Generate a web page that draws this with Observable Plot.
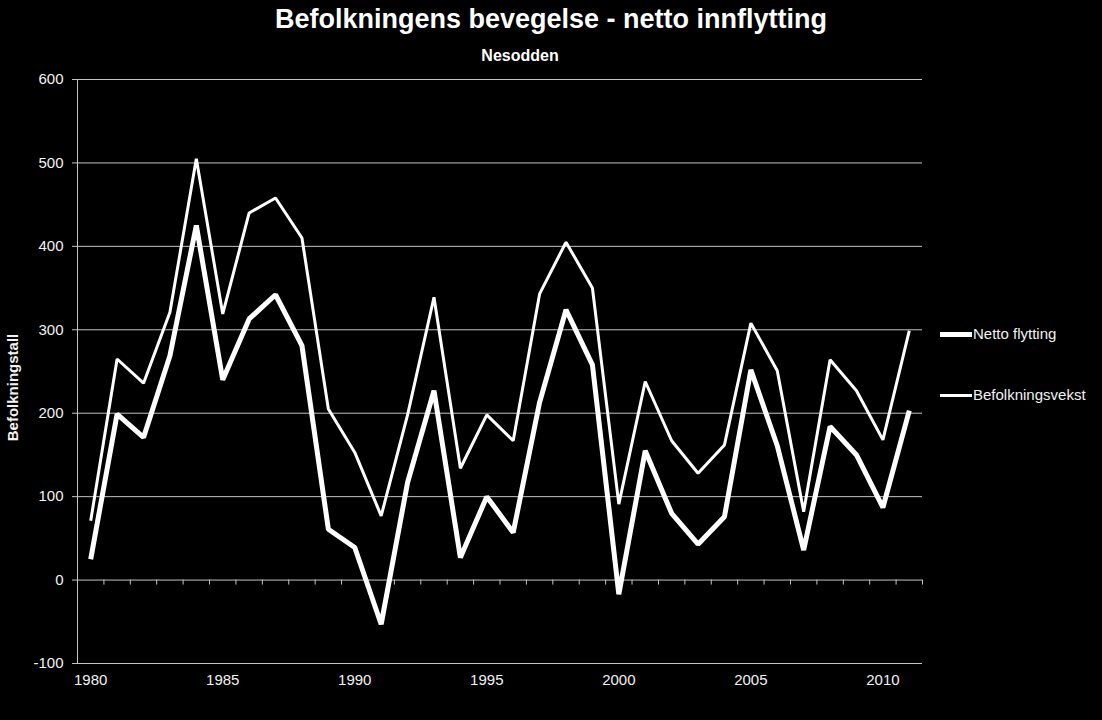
<!DOCTYPE html>
<html><head><meta charset="utf-8">
<script src="https://cdn.jsdelivr.net/npm/d3@7"></script>
<script src="https://cdn.jsdelivr.net/npm/@observablehq/plot@0.6"></script>
<style>
html,body{margin:0;padding:0;background:#000;}
#wrap{position:relative;width:1102px;height:720px;background:#000;font-family:"Liberation Sans",Arial,sans-serif;color:#fff;overflow:hidden}
#title{position:absolute;left:0;width:1102px;top:3px;text-align:center;font-weight:bold;font-size:27px;line-height:32px}
#sub{position:absolute;left:420px;width:200px;top:47px;text-align:center;font-weight:bold;font-size:16px;line-height:18px}
#chart{position:absolute;left:0;top:0}
.leg{position:absolute;left:940px;width:160px;height:20px;font-size:15px;line-height:20px;}
.sw{position:absolute;left:0;width:32px;background:#fff}
.lt{position:absolute;left:33px;top:0;white-space:nowrap;color:#f2f2f2}
</style></head>
<body>
<div id="wrap">
  <div id="chart"></div>
  <div id="title">Befolkningens bevegelse - netto innflytting</div>
  <div id="sub">Nesodden</div>
  <div class="leg" style="top:324px"><div class="sw" style="top:8px;height:5px"></div><div class="lt">Netto flytting</div></div>
  <div class="leg" style="top:385px"><div class="sw" style="top:8.5px;height:3px"></div><div class="lt">Befolkningsvekst</div></div>
</div>
<script>
const years = [1980,1981,1982,1983,1984,1985,1986,1987,1988,1989,1990,1991,1992,1993,1994,1995,1996,1997,1998,1999,2000,2001,2002,2003,2004,2005,2006,2007,2008,2009,2010,2011];
const nettoFlytting = [25,199,171,269,425,240,313,342,281,61,39,-53,117,227,27,100,57,213,324,258,-17,155,80,43,76,252,161,36,184,150,87,203];
const befolkningsvekst = [71,265,236,321,505,319,440,458,410,205,153,77,198,339,134,198,167,343,405,350,91,238,167,128,162,308,251,82,264,227,168,299];
const xTickLabels = [1980,1985,1990,1995,2000,2005,2010];
const yTicks = [-100,0,100,200,300,400,500,600];

const netto = years.map((y,i) => ({year:y, value:nettoFlytting[i]}));
const vekst = years.map((y,i) => ({year:y, value:befolkningsvekst[i]}));
const boundaries = years.map(y => y - 0.5).concat([years[years.length-1] + 0.5]);

const grid = "#c4c4c4";
const chart = Plot.plot({
  width: 1102,
  height: 720,
  marginLeft: 77,
  marginRight: 180,
  marginTop: 79,
  marginBottom: 57,
  style: {background: "#000", color: "#f2f2f2", fontFamily: "'Liberation Sans', Arial, sans-serif", fontSize: "15px"},
  x: {domain: [years[0] - 0.5, years[years.length-1] + 0.5]},
  y: {domain: [-100, 600]},
  marks: [
    Plot.ruleY(yTicks, {stroke: grid, strokeWidth: 1}),
    Plot.ruleX([years[0] - 0.5], {stroke: grid, strokeWidth: 1}),
    Plot.ruleX(boundaries, {x: d => d, y1: 0, y2: -6, stroke: grid, strokeWidth: 1}),
    Plot.axisY({ticks: yTicks, tickSize: 5, tickPadding: 9, stroke: grid, fill: "#f2f2f2", fontSize: 15, label: null, tickFormat: d => String(d)}),
    Plot.axisX({ticks: xTickLabels, tickSize: 0, tickPadding: 11, fill: "#f2f2f2", fontSize: 15, label: null, tickFormat: d => String(d)}),
    Plot.text(["Befolkningstall"], {text: d => d, frameAnchor: "left", textAnchor: "middle", lineAnchor: "middle", rotate: -90, dx: -64, dy: 16, fill: "#f2f2f2", fontWeight: "bold", fontSize: 15}),
    Plot.line(vekst, {x: "year", y: "value", stroke: "#fff", strokeWidth: 3, strokeLinejoin: "miter", strokeLinecap: "butt"}),
    Plot.line(netto, {x: "year", y: "value", stroke: "#fff", strokeWidth: 5, strokeLinejoin: "miter", strokeLinecap: "butt"})
  ]
});
document.getElementById("chart").appendChild(chart);
</script>
</body></html>
